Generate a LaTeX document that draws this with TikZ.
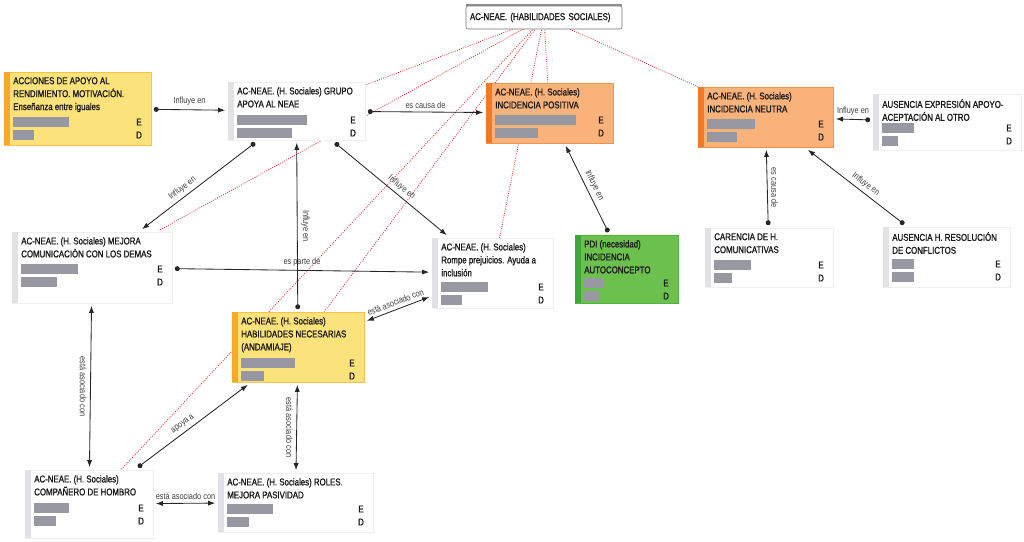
\documentclass[tikz,border=0pt]{standalone}
\usepackage{fontspec}
\newfontfamily\ficfont[FakeStretch=0.8, FakeBold=1.2]{Liberation Sans}
\newfontfamily\etqfont[FakeStretch=0.82]{Liberation Sans}
\usetikzlibrary{arrows.meta}
\usetikzlibrary{calc}
\usetikzlibrary{fit}
\definecolor{ambar}{RGB}{251,226,122}
\definecolor{ambarf}{RGB}{246,170,40}
\definecolor{naranja}{RGB}{248,178,122}
\definecolor{naranjaf}{RGB}{238,122,40}
\definecolor{verde}{RGB}{108,192,78}
\definecolor{verdef}{RGB}{60,168,58}
\definecolor{gris}{RGB}{226,226,230}
\definecolor{barra}{RGB}{152,152,162}
\definecolor{rojo}{RGB}{222,40,40}
\tikzstyle{ficha}=[rectangle, inner sep=0pt, outer sep=2pt, line width=.5pt]
\tikzstyle{titulo}=[anchor=north west, inner sep=0pt, align=left, text=black!90, font=\ficfont\fontsize{7}{9.2}\selectfont]
\tikzstyle{letra}=[inner sep=0pt, text=black!90, font=\ficfont\fontsize{7}{9.2}\selectfont]
\tikzstyle{rel}=[draw=black!85, line width=.6pt]
\tikzstyle{flecha}=[rel, {Circle[length=3.5pt]}-{Latex[length=5pt,width=3.6pt]}]
\tikzstyle{flechainv}=[rel, {Latex[length=5pt,width=3.6pt]}-{Circle[length=3.5pt]}]
\tikzstyle{doble}=[rel, {Latex[length=5pt,width=3.6pt]}-{Latex[length=5pt,width=3.6pt]}]
\tikzstyle{etiq}=[inner sep=2.5pt, text=black!75, font=\etqfont\fontsize{6.4}{7}\selectfont]
\tikzstyle{lazo}=[draw=rojo, densely dotted, line width=.6pt, shorten <=-2pt, shorten >=-2pt]
\tikzstyle{cabecera}=[draw=black!55, fill=white, rounded corners=1.5pt, minimum width=3.9cm, minimum height=.575cm, text width=3.7cm, inner xsep=.1cm, align=left, outer sep=1pt, text=black!90, font=\ficfont\fontsize{7}{9.2}\selectfont]
\pgfdeclarelayer{bg}
\pgfsetlayers{bg,main}

\begin{document}
\begin{tikzpicture}[x=.025cm, y=-.025cm]
    \useasboundingbox (0,0) rectangle (1024,541);

    \node[cabecera] (raiz) at (544,17.5) {AC-NEAE. (HABILIDADES SOCIALES)};
    \draw[black!45, line width=1.4pt] ([xshift=1pt]raiz.north west) -- ([xshift=-1pt]raiz.north east);

      \foreach \nom/\xa/\ya/\xb/\yb/\fondo/\franja/\tit/\ey/\ew/\dw in {
        acc/4/72/151/145/ambar/ambarf/{ACCIONES DE APOYO AL\\RENDIMIENTO. MOTIVACIÓN.\\Enseñanza entre iguales}/122/56/21,
        grupo/228/82/365/140/white/gris/{AC-NEAE. (H. Sociales) GRUPO\\APOYA AL NEAE}/120/70/55,
        incpos/486/83/613/143/naranja/naranjaf/{AC-NEAE. (H. Sociales)\\INCIDENCIA POSITIVA}/120/81/43,
        incneu/698/87/833/147/naranja/naranjaf/{AC-NEAE. (H. Sociales)\\INCIDENCIA NEUTRA}/124/48/30,
        ausexp/873/94/1021/150/white/gris/{AUSENCIA EXPRESIÓN APOYO-\\ACEPTACIÓN AL OTRO}/128/32/16,
        mejora/12/232/172/303/white/gris/{AC-NEAE. (H. Sociales) MEJORA\\COMUNICACIÓN CON LOS DEMAS}/269/57/36,
        rompe/432/238/553/308/white/gris/{AC-NEAE. (H. Sociales)\\Rompe prejuicios. Ayuda a\\inclusión}/287/47/21,
        pdi/575/235/678/303/verde/verdef/{PDI (necesidad)\\INCIDENCIA\\AUTOCONCEPTO}/283/19/15,
        carencia/705/228/833/287/white/gris/{CARENCIA DE H.\\COMUNICATIVAS}/265/37/18,
        ausres/883/227/1010/287/white/gris/{AUSENCIA H. RESOLUCIÓN\\DE CONFLICTOS}/264/22/22,
        habil/232/312/364/382/ambar/ambarf/{AC-NEAE. (H. Sociales)\\HABILIDADES NECESARIAS\\(ANDAMIAJE)}/363/54/23,
        compa/25/470/153/538/white/gris/{AC-NEAE. (H. Sociales)\\COMPAÑERO DE HOMBRO}/508/35/22,
        roles/218/473/373/532/white/gris/{AC-NEAE. (H. Sociales) ROLES.\\MEJORA PASIVIDAD}/509/46/22}{
        \node[ficha, fill=\fondo, draw=\franja!55!\fondo, fit={(\xa,\ya) (\xb,\yb)}] (\nom) {};
        \fill[\franja] (\xa,\ya) rectangle (\xa+6,\yb);
        \node[titulo] (\nom-t) at (\xa+9,\ya+5) {\tit};
        \fill[barra] (\xa+9,\ey-5) rectangle ++(\ew,10);
        \fill[barra] (\xa+9,\ey+8) rectangle ++(\dw,10);
        \node[letra] (\nom-e) at (\xb-12,\ey) {E};
        \node[letra] (\nom-d) at (\xb-12,\ey+13) {D};
        }

    \begin{pgfonlayer}{bg}
      \foreach \dest in {grupo,mejora,habil,rompe,incpos,incneu,compa}
        \draw[lazo] (raiz) -- (\dest);
    \end{pgfonlayer}

    \draw[flecha] (acc) -- node[etiq, above] (l1) {Influye en} (grupo);
    \draw[flecha] (grupo) -- node[etiq, above] (l2) {es causa de} (incpos);
    \draw[flecha] (ausexp) -- node[etiq, above] (l3) {Influye en} (incneu);
    \draw[flechainv] (mejora) -- node[etiq, sloped, above, pos=.4] (l4) {Influye en} (grupo);
    \draw[flecha] (habil) -- node[etiq, rotate=-90, anchor=south] (l5) {Influye en} (grupo);
    \draw[flecha] (grupo) -- node[etiq, sloped, above, pos=.55] (l6) {Influye en} (rompe);
    \draw[flecha] (mejora) -- node[etiq, above] (l7) {es parte de} (rompe);
    \draw[doble] (habil) -- node[etiq, sloped, above] (l8) {está asociado con} (rompe);
    \draw[flechainv] (incpos) -- node[etiq, sloped, above] (l9) {Influye en} (pdi);
    \draw[flecha] (carencia) -- node[etiq, rotate=-90, anchor=south] (l10) {es causa de} (incneu);
    \draw[flechainv] (incneu) -- node[etiq, sloped, above, pos=.55] (l11) {Influye en} (ausres);
    \draw[doble] (mejora) -- node[etiq, rotate=-90, anchor=north] (l12) {está asociado con} (compa);
    \draw[flecha] (compa) -- node[etiq, sloped, above, pos=.45] (l13) {apoya a} (habil);
    \draw[doble] (habil) -- node[etiq, rotate=-90, anchor=north] (l14) {está asociado con} (roles);
    \draw[doble] (compa) -- node[etiq, above] (l15) {está asociado con} (roles);

\end{tikzpicture}
\end{document}
